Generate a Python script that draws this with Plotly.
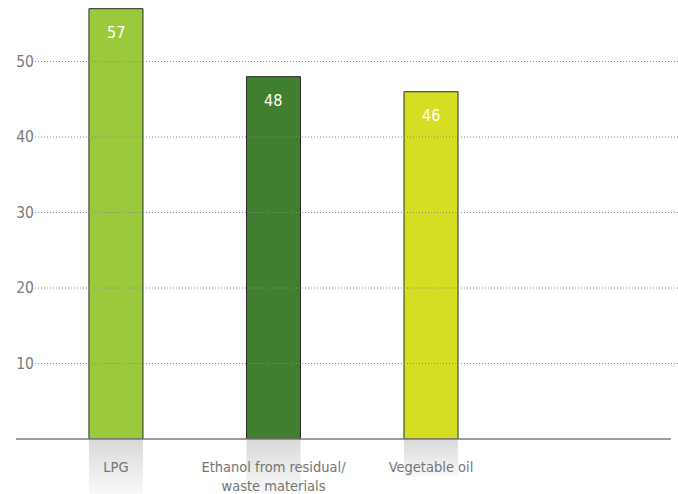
import plotly.graph_objects as go

# Data
categories = ["LPG", "Ethanol from residual/<br>waste materials", "Vegetable oil"]
values = [57, 48, 46]
bar_colors = ["#9bc93c", "#3f7f2e", "#d6de22"]
y_ticks = [10, 20, 30, 40, 50]
label_box_depth = [7.3, 7.3, 5.0]   # depth of the shaded strip under each bar (value units)

FONT = "DejaVu Sans Condensed, Liberation Sans Narrow, Liberation Sans, sans-serif"
BAR_W = 0.343
Y_MIN, Y_MAX = -7.28, 58.15

xs = list(range(len(categories)))

fig = go.Figure()

# shaded strips under each bar, fading downwards
for x, d in zip(xs, label_box_depth):
    fig.add_trace(go.Scatter(
        x=[x - BAR_W / 2, x + BAR_W / 2, x + BAR_W / 2, x - BAR_W / 2, x - BAR_W / 2],
        y=[0, 0, -d, -d, 0],
        mode="lines", line=dict(width=0),
        fill="toself",
        fillgradient=dict(type="vertical", start=-d, stop=0,
                          colorscale=[[0, "#f9f9f9"], [1, "#d9d9d9"]]),
        hoverinfo="skip", showlegend=False,
    ))

fig.add_trace(go.Bar(
    x=xs, y=values, width=BAR_W,
    marker=dict(color=bar_colors, line=dict(color="#2b2b2b", width=1)),
    showlegend=False, hoverinfo="skip",
))

# value labels near the top of each bar
for x, v in zip(xs, values):
    fig.add_annotation(x=x, y=v, text=str(v), showarrow=False, yshift=-24,
                       font=dict(family=FONT, size=16, color="white"))

# dotted gridlines drawn over the bars
for t in y_ticks:
    fig.add_shape(type="line", xref="paper", yref="y", x0=0, x1=1, y0=t, y1=t,
                  line=dict(color="#8a8a8a", width=1, dash="1px,2px"), layer="above")

# baseline
fig.add_shape(type="line", xref="paper", yref="y", x0=-0.0295, x1=0.989, y0=0, y1=0,
              line=dict(color="#7a7a7a", width=1.5), layer="above")

fig.update_layout(
    width=678, height=494,
    margin=dict(l=35, r=0, t=0, b=0),
    paper_bgcolor="white", plot_bgcolor="white",
    font=dict(family=FONT, color="#747474"),
    xaxis=dict(
        range=[-0.514, 3.568],
        tickvals=xs, ticktext=categories,
        anchor="free", position=(0 - Y_MIN) / (Y_MAX - Y_MIN),
        showgrid=False, zeroline=False, showline=False,
        ticks="outside", ticklen=15, tickcolor="rgba(0,0,0,0)",
        tickfont=dict(family=FONT, size=14.5, color="#747474"),
    ),
    yaxis=dict(
        range=[Y_MIN, Y_MAX],
        tickvals=y_ticks,
        showgrid=False, zeroline=False, showline=False,
        ticks="", tickfont=dict(family=FONT, size=15.5, color="#7a7a7a"),
    ),
)

fig.write_html("out.html")
